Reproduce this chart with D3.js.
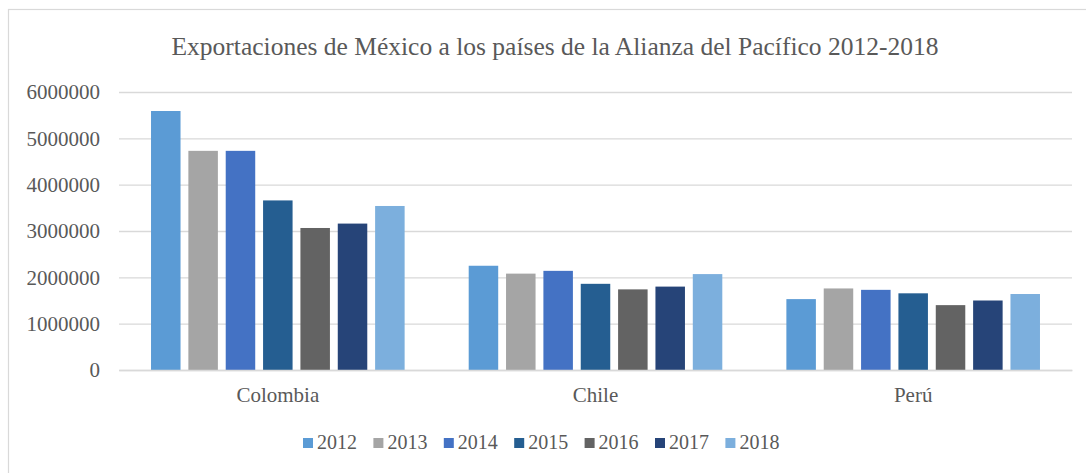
<!DOCTYPE html>
<html>
<head>
<meta charset="utf-8">
<script src="https://cdn.jsdelivr.net/npm/d3@7"></script>
<style>
  html, body { margin: 0; padding: 0; background: #fff; }
  svg { display: block; font-family: "Liberation Serif", "Times New Roman", serif; }
</style>
</head>
<body>
<svg id="chart"></svg>
<script>
// categories and series
const paises = ['Colombia', 'Chile', 'Perú'];
const anios = ['2012', '2013', '2014', '2015', '2016', '2017', '2018'];
const v2012 = [5590000, 2250000, 1530000];
const v2013 = [4730000, 2080000, 1760000];
const v2014 = [4730000, 2140000, 1730000];
const v2015 = [3660000, 1860000, 1655000];
const v2016 = [3065000, 1740000, 1400000];
const v2017 = [3160000, 1800000, 1500000];
const v2018 = [3540000, 2070000, 1640000];
const yTicks = [0, 1000000, 2000000, 3000000, 4000000, 5000000, 6000000];
const colores = ['#5B9BD5', '#A5A5A5', '#4472C4', '#255E91', '#636363', '#264478', '#7CAFDD'];

const series = [v2012, v2013, v2014, v2015, v2016, v2017, v2018];

const W = 1086, H = 473;
const margin = { top: 92, right: 14, bottom: 103, left: 119 };
const plotW = W - margin.left - margin.right;
const plotH = H - margin.top - margin.bottom;

const svg = d3.select('#chart').attr('width', W).attr('height', H);

// outer frame of the chart area (runs off to the right and bottom)
svg.append('rect')
  .attr('x', 8.5).attr('y', 9.5)
  .attr('width', 1100).attr('height', 480)
  .attr('fill', '#fff')
  .attr('stroke', '#D9D9D9').attr('stroke-width', 1.2);

svg.append('text')
  .attr('x', 555).attr('y', 55)
  .attr('text-anchor', 'middle')
  .attr('font-size', 25.5)
  .attr('fill', '#595959')
  .text('Exportaciones de México a los países de la Alianza del Pacífico 2012-2018');

const x0 = d3.scaleBand()
  .domain(paises)
  .range([0, plotW])
  .paddingInner(0.2017)
  .paddingOuter(0.1008);

const x1 = d3.scaleBand()
  .domain(anios)
  .range([0, x0.bandwidth()])
  .paddingInner(0.21);

const y = d3.scaleLinear()
  .domain([0, 6000000])
  .range([plotH, 0]);

const g = svg.append('g')
  .attr('transform', `translate(${margin.left},${margin.top})`);

// gridlines + y labels via axis
const yAxis = d3.axisLeft(y)
  .tickValues(yTicks)
  .tickFormat(d3.format('d'))
  .tickSize(-plotW)
  .tickPadding(19);

const yAxisDraw = g.append('g').call(yAxis);
yAxisDraw.select('.domain').remove();
yAxisDraw.selectAll('line').attr('stroke', '#D9D9D9').attr('stroke-width', 1.3);
yAxisDraw.selectAll('text')
  .attr('fill', '#595959')
  .attr('font-size', 21)
  .attr('font-family', '"Liberation Serif", "Times New Roman", serif');

// bars
const grupos = g.selectAll('.grupo')
  .data(paises)
  .enter()
  .append('g')
  .classed('grupo', true)
  .attr('transform', (d) => `translate(${x0(d)},0)`);

grupos.selectAll('rect')
  .data((d, i) => anios.map((a, j) => ({ anio: a, valor: series[j][i], idx: j })))
  .enter()
  .append('rect')
  .attr('x', (d) => x1(d.anio))
  .attr('y', (d) => y(d.valor))
  .attr('width', x1.bandwidth())
  .attr('height', (d) => plotH - y(d.valor))
  .style('fill', (d) => colores[d.idx]);

// x axis labels
const xAxis = d3.axisBottom(x0).tickSize(0).tickPadding(17);
const xAxisDraw = g.append('g')
  .attr('transform', `translate(0,${plotH})`)
  .call(xAxis);
xAxisDraw.select('.domain').attr('stroke', '#D9D9D9').attr('stroke-width', 1.3);
xAxisDraw.selectAll('text')
  .attr('fill', '#595959')
  .attr('font-size', 21)
  .attr('font-family', '"Liberation Serif", "Times New Roman", serif');

// legend
const leyenda = svg.append('g')
  .attr('transform', 'translate(303,438)');

const item = leyenda.selectAll('.item')
  .data(anios)
  .enter()
  .append('g')
  .classed('item', true)
  .attr('transform', (d, i) => `translate(${i * 70.4},0)`);

item.append('rect')
  .attr('width', 10).attr('height', 10)
  .style('fill', (d, i) => colores[i]);

item.append('text')
  .attr('x', 14).attr('y', 11)
  .attr('font-size', 20)
  .attr('fill', '#595959')
  .text((d) => d);
</script>
</body>
</html>
